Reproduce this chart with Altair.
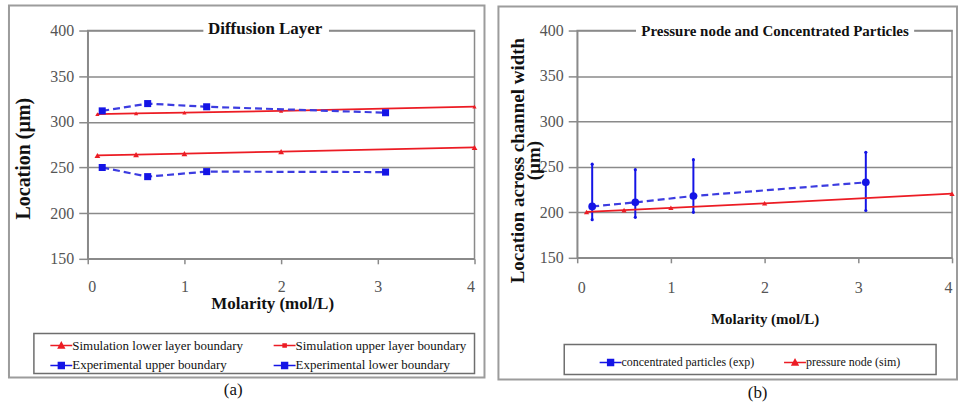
import altair as alt
import pandas as pd

# ---------------- data : panel (a) Diffusion Layer ----------------
sim_x = [0.1, 0.5, 1.0, 2.0, 4.0]
sim_lower = [263.2, 264.1, 265.2, 267.4, 272.0]
sim_upper = [308.5, 309.2, 310.1, 312.0, 316.6]
exp_x_a = [0.15, 0.62, 1.23, 3.08]
exp_upper = [312.0, 320.0, 316.5, 310.0]
exp_lower = [250.0, 240.0, 245.5, 245.0]
legend_a = ["Simulation lower layer boundary", "Simulation upper layer boundary",
            "Experimental upper boundary", "Experimental lower boundary"]

# ---------------- data : panel (b) Pressure node ----------------
exp_x_b = [0.16, 0.62, 1.24, 3.08]
conc = [206.5, 211.0, 218.0, 233.0]
conc_lo = [192.0, 194.5, 200.0, 202.0]
conc_hi = [253.0, 247.0, 258.0, 266.0]
node_x = [0.1, 0.5, 1.0, 2.0, 4.0]
node = [200.5, 202.5, 205.0, 210.0, 220.5]
legend_b = ["concentrated particles (exp)", "pressure node (sim)"]

x_ticks = [0, 1, 2, 3, 4]
y_ticks = [150, 200, 250, 300, 350, 400]

FONT = "Liberation Serif"
RED = "#ec1c24"
BLUE = "#1414e6"
BLUE_LINE = "#3c3ce0"
GRAY = "#8a8a8a"

# legend symbol paths (line + marker)
LINE = "M-1.57,0L1.57,0"
TRI = LINE + "M-0.42,0.36L0,-0.42L0.42,0.36Z"
DOT = LINE + "M-0.22,-0.22L0.22,-0.22L0.22,0.22L-0.22,0.22Z"
SQ = LINE + "M-0.42,-0.42L0.42,-0.42L0.42,0.42L-0.42,0.42Z"


def X(label_pad, title_x, title_y, title_size):
    return alt.X("x:Q", scale=alt.Scale(domain=[0, 4], nice=False, zero=False),
                 axis=alt.Axis(values=x_ticks, format="d", grid=False, tickSize=5,
                               labelPadding=label_pad, labelBaseline="middle",
                               title="Molarity (mol/L)", titleX=title_x, titleY=title_y,
                               titleBaseline="middle", titleAlign="center",
                               titleFontSize=title_size))


def Y(field, title, title_x, title_y, title_size):
    return alt.Y(field + ":Q", scale=alt.Scale(domain=[150, 400], nice=False, zero=False),
                 axis=alt.Axis(values=y_ticks, grid=True, tickSize=9, labelPadding=5,
                               title=title, titleX=title_x, titleY=title_y, titleAngle=270,
                               titleBaseline="middle", titleAlign="center",
                               titleFontSize=title_size, titleLineHeight=16))


def series(xs, ys, color, lcolor, width, dash, shape, size, xe, ye):
    df = pd.DataFrame({"x": xs, "y": ys})
    kw = {"strokeDash": dash} if dash else {}
    line = alt.Chart(df).mark_line(color=lcolor, strokeWidth=width, **kw).encode(x=xe, y=ye)
    pts = alt.Chart(df).mark_point(filled=True, shape=shape, size=size, color=color,
                                   opacity=1).encode(x=xe, y=ye)
    return [line, pts]


one = pd.DataFrame({"k": [0]})


def rect(x1, x2, y1, y2, **kw):
    return alt.Chart(one).mark_rect(**kw).encode(
        x=alt.value(x1), x2=alt.value(x2), y=alt.value(y1), y2=alt.value(y2))


def text(t, x, y, size, weight="normal"):
    return alt.Chart(one).mark_text(text=t, font=FONT, fontSize=size, fontWeight=weight,
                                    color="#111111", baseline="middle", align="center").encode(
        x=alt.value(x), y=alt.value(y))


def legend_layer(labels, colors, shapes, legend, xe, ye):
    df = pd.DataFrame({"lg": labels, "x": [0] * len(labels), "y": [150] * len(labels)})
    return alt.Chart(df).transform_filter("false").mark_point(filled=True, opacity=1).encode(
        x=xe, y=ye,
        fill=alt.Fill("lg:N", scale=alt.Scale(domain=labels, range=colors), legend=legend),
        stroke=alt.Stroke("lg:N", scale=alt.Scale(domain=labels, range=colors), legend=legend),
        shape=alt.Shape("lg:N", scale=alt.Scale(domain=labels, range=shapes), legend=legend))


# ---------------- panel (a) ----------------
xa = X(23, 185, 45, 17)
ya = Y("y", "Location (µm)", -64, 128, 20)
leg_a = alt.Legend(orient="none", legendX=-34.5, legendY=308, columns=2, columnPadding=27,
                   direction="horizontal",
                   rowPadding=5, labelOffset=3, symbolSize=196, symbolStrokeWidth=1.5,
                   labelFont=FONT, labelFontSize=13, labelColor="#111111", labelLimit=400,
                   title=None, symbolOpacity=1, padding=0)

layers_a = [rect(-79, 398, -25, 348, fillOpacity=0, stroke="#9c9c9c", strokeWidth=2),
            rect(-54, 388, 304, 344, fillOpacity=0, stroke="#6e6e6e", strokeWidth=1.5)]
layers_a += series(sim_x, sim_lower, RED, RED, 1.8, None, "triangle-up", 34, xa, ya)
layers_a += series(sim_x, sim_upper, RED, RED, 1.8, None, "triangle-up", 18, xa, ya)
layers_a += series(exp_x_a, exp_upper, BLUE, BLUE_LINE, 2.2, [7, 4], "square", 50, xa, ya)
layers_a += series(exp_x_a, exp_lower, BLUE, BLUE_LINE, 2.2, [7, 4], "square", 50, xa, ya)
layers_a += [rect(116, 242, -4, 4, fill="white"),
             text("Diffusion Layer", 178, -2, 17, "bold"),
             text("(a)", 146, 361, 17),
             legend_layer(legend_a, [RED, RED, BLUE, BLUE], [TRI, DOT, SQ, SQ], leg_a, xa, ya)]

panel_a = alt.layer(*layers_a).properties(width=388, height=229)

# ---------------- panel (b) ----------------
YB_TITLE = ["Location across channel width", "(µm)"]
xb = X(25, 188, 61, 15)
yb = Y("y", YB_TITLE, -60, 130, 19)
yb_lo = Y("lo", YB_TITLE, -60, 130, 19)
yb_hi = Y("hi", YB_TITLE, -60, 130, 19)
leg_b = alt.Legend(orient="none", legendX=25.5, legendY=325, columns=2, columnPadding=26,
                   direction="horizontal",
                   rowPadding=5, labelOffset=3, symbolSize=196, symbolStrokeWidth=1.5,
                   labelFont=FONT, labelFontSize=12, labelColor="#111111", labelLimit=400,
                   title=None, symbolOpacity=1, padding=0)

err_df = pd.DataFrame({"x": exp_x_b, "lo": conc_lo, "hi": conc_hi})
err_base = alt.Chart(err_df)
layers_b = [rect(-79, 381, -24, 350, fillOpacity=0, stroke="#9c9c9c", strokeWidth=2),
            rect(-13, 360, 315, 345, fillOpacity=0, stroke="#6e6e6e", strokeWidth=1.5),
            err_base.mark_rule(color=BLUE, strokeWidth=2).encode(x=xb, y=yb_lo, y2="hi:Q"),
            err_base.mark_point(filled=True, shape="circle", size=10, color=BLUE, opacity=1).encode(x=xb, y=yb_lo),
            err_base.mark_point(filled=True, shape="circle", size=10, color=BLUE, opacity=1).encode(x=xb, y=yb_hi)]
layers_b += series(node_x, node, RED, RED, 1.8, None, "triangle-up", 28, xb, yb)
layers_b += series(exp_x_b, conc, BLUE, BLUE_LINE, 2.2, [7, 4], "circle", 60, xb, yb)
layers_b += [rect(59, 338, -4, 4, fill="white"),
             text("Pressure node and Concentrated Particles", 198.5, 0, 15, "bold"),
             text("(b)", 181, 364, 17),
             legend_layer(legend_b, [BLUE, RED], [SQ, TRI], leg_b, xb, yb)]

panel_b = alt.layer(*layers_b).properties(width=376, height=228)

chart = alt.hconcat(panel_a, panel_b, spacing=10).resolve_scale(
    fill="independent", stroke="independent", shape="independent"
).properties(
    padding={"left": 7, "top": 3, "right": 0, "bottom": 0},
    background="white",
).configure_axis(
    labelFont=FONT, labelFontSize=16, labelColor="#555555",
    titleFont=FONT, titleFontWeight="bold", titleColor="#111111",
    domainColor=GRAY, domainWidth=1.5, tickColor=GRAY, tickWidth=1.5,
    gridColor=GRAY, gridWidth=1.5,
).configure_view(stroke=GRAY, strokeWidth=1.5)

chart.save("out.html", embed_options={"renderer": "svg", "actions": False})
